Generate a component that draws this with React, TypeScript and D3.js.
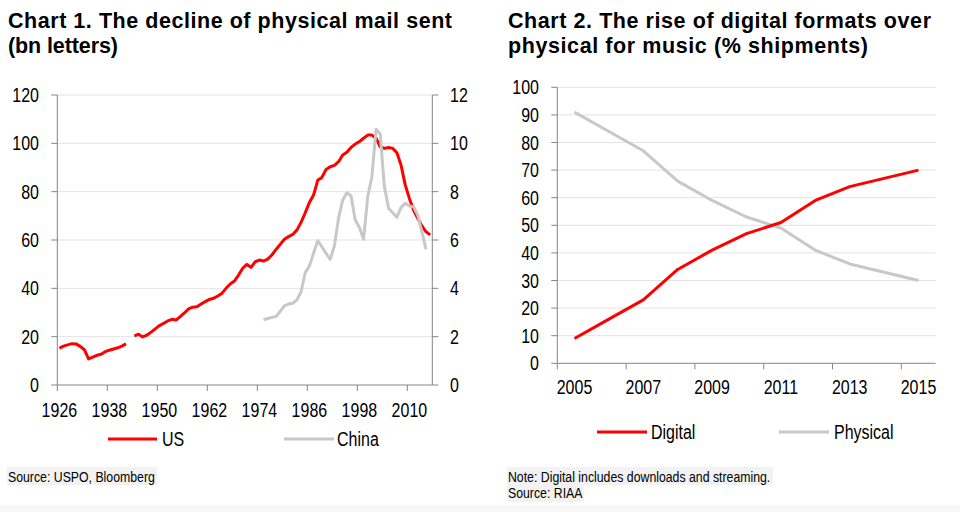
import React from "react";
import * as d3 from "d3";

// ---------- Chart 1 data ----------
const usYears: number[] = d3.range(1926, 2016);
const usValues: (number | null)[] = [
  15.2, 16.1, 16.6, 17.1, 17.0, 16.0, 14.6, 10.8, 11.5, 12.3,
  12.7, 13.8, 14.4, 14.9, 15.4, 16.1, 17.0, null, 20.3, 21.0,
  19.9, 20.6, 21.9, 23.2, 24.6, 25.5, 26.5, 27.2, 26.9, 28.3,
  29.8, 31.5, 32.2, 32.4, 33.5, 34.5, 35.4, 35.9, 36.8, 37.9,
  40.0, 41.8, 43.0, 45.5, 48.3, 49.9, 48.7, 51.0, 51.7, 51.3,
  52.1, 53.8, 56.1, 58.2, 60.3, 61.4, 62.3, 64.1, 67.3, 71.2,
  75.5, 78.6, 84.7, 85.9, 89.2, 90.3, 90.9, 92.4, 95.2, 96.3,
  98.3, 99.7, 100.7, 102.1, 103.4, 103.4, 102.1, 98.6, 97.9, 98.3,
  97.9, 96.1, 91.0, 82.8, 77.2, 72.4, 69.0, 65.8, 63.4, 62.1,
];
const chinaYears: number[] = d3.range(1975, 2015);
const chinaValues: number[] = [
  2.7, 2.75, 2.8, 2.83, 3.05, 3.27, 3.35, 3.38, 3.52, 3.85,
  4.65, 4.92, 5.45, 5.97, 5.72, 5.45, 5.2, 5.75, 6.9, 7.66,
  7.96, 7.82, 6.83, 6.52, 6.03, 7.79, 8.62, 10.58, 10.39, 8.21,
  7.31, 7.13, 6.94, 7.35, 7.52, 7.41, 7.38, 7.03, 6.34, 5.61,
];
const chart1LeftTicks = [0, 20, 40, 60, 80, 100, 120];
const chart1RightTicks = [0, 2, 4, 6, 8, 10, 12];
const chart1XTicks = [1926, 1938, 1950, 1962, 1974, 1986, 1998, 2010];

// ---------- Chart 2 data ----------
const musicYears: number[] = d3.range(2005, 2016);
const digitalValues: number[] = [9, 16, 23, 34, 41, 47, 51, 59, 64, 67, 70];
const physicalValues: number[] = [91, 84, 77, 66, 59, 53, 49, 41, 36, 33, 30];
const chart2YTicks = d3.range(0, 101, 10);
const chart2XTicks = [2005, 2007, 2009, 2011, 2013, 2015];

const RED = "#ff0000";
const GREY = "#c8c8c8";
const GRID = "#e3e3e3";
const AXIS = "#858585";
const SANS = "'Liberation Sans', Arial, Helvetica, sans-serif";

type NTProps = {
  x: number;
  y: number;
  size: number;
  anchor?: "start" | "middle" | "end";
  children: React.ReactNode;
};

// Arial-Narrow-like text: Liberation Sans condensed horizontally to 82%
function NText({ x, y, size, anchor = "start", children }: NTProps) {
  return (
    <text
      transform={`translate(${x},${y}) scale(0.82,1)`}
      textAnchor={anchor}
      fontSize={size}
      fontFamily={SANS}
      fill="#000"
    >
      {children}
    </text>
  );
}

function Chart1() {
  const x = d3.scaleBand<number>().domain(usYears).range([57.3, 432.3]);
  const bw = x.bandwidth();
  const yL = d3.scaleLinear().domain([0, 120]).range([385, 95]);
  const yR = d3.scaleLinear().domain([0, 12]).range([385, 95]);
  const usData = usYears.map((yr, i) => ({ yr, v: usValues[i] }));
  const chinaData = chinaYears.map((yr, i) => ({ yr, v: chinaValues[i] }));
  const usLine = d3
    .line<{ yr: number; v: number | null }>()
    .defined((d) => d.v !== null)
    .x((d) => (x(d.yr) as number) + bw / 2)
    .y((d) => yL(d.v as number));
  const chinaLine = d3
    .line<{ yr: number; v: number }>()
    .x((d) => (x(d.yr) as number) + bw / 2)
    .y((d) => yR(d.v));
  const [x0, x1] = x.range();
  return (
    <g>
      {chart1LeftTicks.filter((t) => t > 0).map((t) => (
        <line key={"g" + t} x1={x0} x2={x1} y1={yL(t)} y2={yL(t)} stroke={GRID} strokeWidth={1} />
      ))}
      <line x1={x0} x2={x0} y1={yL(0)} y2={yL(120)} stroke={AXIS} strokeWidth={1} />
      <line x1={x1} x2={x1} y1={yL(0)} y2={yL(120)} stroke={AXIS} strokeWidth={1} />
      <line x1={x0} x2={x1} y1={yL(0)} y2={yL(0)} stroke={AXIS} strokeWidth={1} />
      {chart1LeftTicks.map((t) => (
        <g key={"l" + t}>
          <line x1={x0 - 6} x2={x0} y1={yL(t)} y2={yL(t)} stroke={AXIS} />
          <NText x={39} y={yL(t) + 7} size={19.5} anchor="end">{t}</NText>
        </g>
      ))}
      {chart1RightTicks.map((t) => (
        <g key={"r" + t}>
          <line x1={x1} x2={x1 + 6} y1={yR(t)} y2={yR(t)} stroke={AXIS} />
          <NText x={450} y={yR(t) + 7} size={19.5}>{t}</NText>
        </g>
      ))}
      {chart1XTicks.map((t) => (
        <g key={"x" + t}>
          <line x1={x(t) as number} x2={x(t) as number} y1={385} y2={391} stroke={AXIS} />
          <NText x={(x(t) as number) + bw / 2} y={417} size={19.5} anchor="middle">{t}</NText>
        </g>
      ))}
      <path d={usLine(usData) || ""} fill="none" stroke={RED} strokeWidth={3} strokeLinejoin="round" />
      <path d={chinaLine(chinaData) || ""} fill="none" stroke={GREY} strokeWidth={3} strokeLinejoin="round" />
      <line x1={108} x2={157} y1={439} y2={439} stroke={RED} strokeWidth={3} />
      <NText x={162} y={446} size={19.5}>US</NText>
      <line x1={284} x2={334} y1={439} y2={439} stroke={GREY} strokeWidth={3} />
      <NText x={337} y={446} size={19.5}>China</NText>
    </g>
  );
}

function Chart2() {
  const x = d3.scaleBand<number>().domain(musicYears).range([557.3, 935.7]);
  const bw = x.bandwidth();
  const y = d3.scaleLinear().domain([0, 100]).range([363.3, 87.3]);
  const line = d3
    .line<number>()
    .x((_, i) => (x(musicYears[i]) as number) + bw / 2)
    .y((d) => y(d));
  const [x0, x1] = x.range();
  return (
    <g>
      {chart2YTicks.filter((t) => t > 0).map((t) => (
        <line key={"g" + t} x1={x0} x2={x1} y1={y(t)} y2={y(t)} stroke={GRID} strokeWidth={1} />
      ))}
      <line x1={x0} x2={x0} y1={y(0)} y2={y(100)} stroke={AXIS} />
      <line x1={x0} x2={x1} y1={y(0)} y2={y(0)} stroke={AXIS} />
      {chart2YTicks.map((t) => (
        <g key={"l" + t}>
          <line x1={x0 - 6} x2={x0} y1={y(t)} y2={y(t)} stroke={AXIS} />
          <NText x={539} y={y(t) + 7} size={19.5} anchor="end">{t}</NText>
        </g>
      ))}
      {chart2XTicks.map((t) => (
        <g key={"x" + t}>
          <line x1={x(t) as number} x2={x(t) as number} y1={y(0)} y2={y(0) + 6} stroke={AXIS} />
          <NText x={(x(t) as number) + bw / 2} y={394} size={19.5} anchor="middle">{t}</NText>
        </g>
      ))}
      <path d={line(physicalValues) || ""} fill="none" stroke={GREY} strokeWidth={3} strokeLinejoin="round" />
      <path d={line(digitalValues) || ""} fill="none" stroke={RED} strokeWidth={3} strokeLinejoin="round" />
      <line x1={597} x2={647} y1={432} y2={432} stroke={RED} strokeWidth={3} />
      <NText x={651} y={438.5} size={19.5}>Digital</NText>
      <line x1={779} x2={829} y1={432} y2={432} stroke={GREY} strokeWidth={3} />
      <NText x={834} y={438.5} size={19.5}>Physical</NText>
    </g>
  );
}

export default function App() {
  return (
    <div style={{ position: "absolute", left: 0, top: 0 }}>
      <svg width={960} height={512} viewBox="0 0 960 512" style={{ display: "block", background: "#fff" }}>
        <rect x={0} y={505} width={960} height={7} fill="#f8f8f8" />
        <g fontFamily={SANS} fontWeight="bold" fontSize={21.5} fill="#000">
          <text x={8} y={28} textLength={444} lengthAdjust="spacing">Chart 1. The decline of physical mail sent</text>
          <text x={8} y={53} textLength={110} lengthAdjust="spacing">(bn letters)</text>
          <text x={508} y={28} textLength={423} lengthAdjust="spacing">Chart 2. The rise of digital formats over</text>
          <text x={508} y={53} textLength={360} lengthAdjust="spacing">physical for music (% shipments)</text>
        </g>
        <Chart1 />
        <Chart2 />
        <rect x={7} y={467} width={150} height={18} fill="#f2f2f2" />
        <NText x={8} y={481.5} size={15}>Source: USPO, Bloomberg</NText>
        <rect x={507} y={467} width={266} height={18} fill="#f2f2f2" />
        <rect x={507} y={485} width={77} height={17} fill="#f2f2f2" />
        <NText x={508} y={481.5} size={15}>Note: Digital includes downloads and streaming.</NText>
        <NText x={508} y={497.5} size={15}>Source: RIAA</NText>
      </svg>
    </div>
  );
}
